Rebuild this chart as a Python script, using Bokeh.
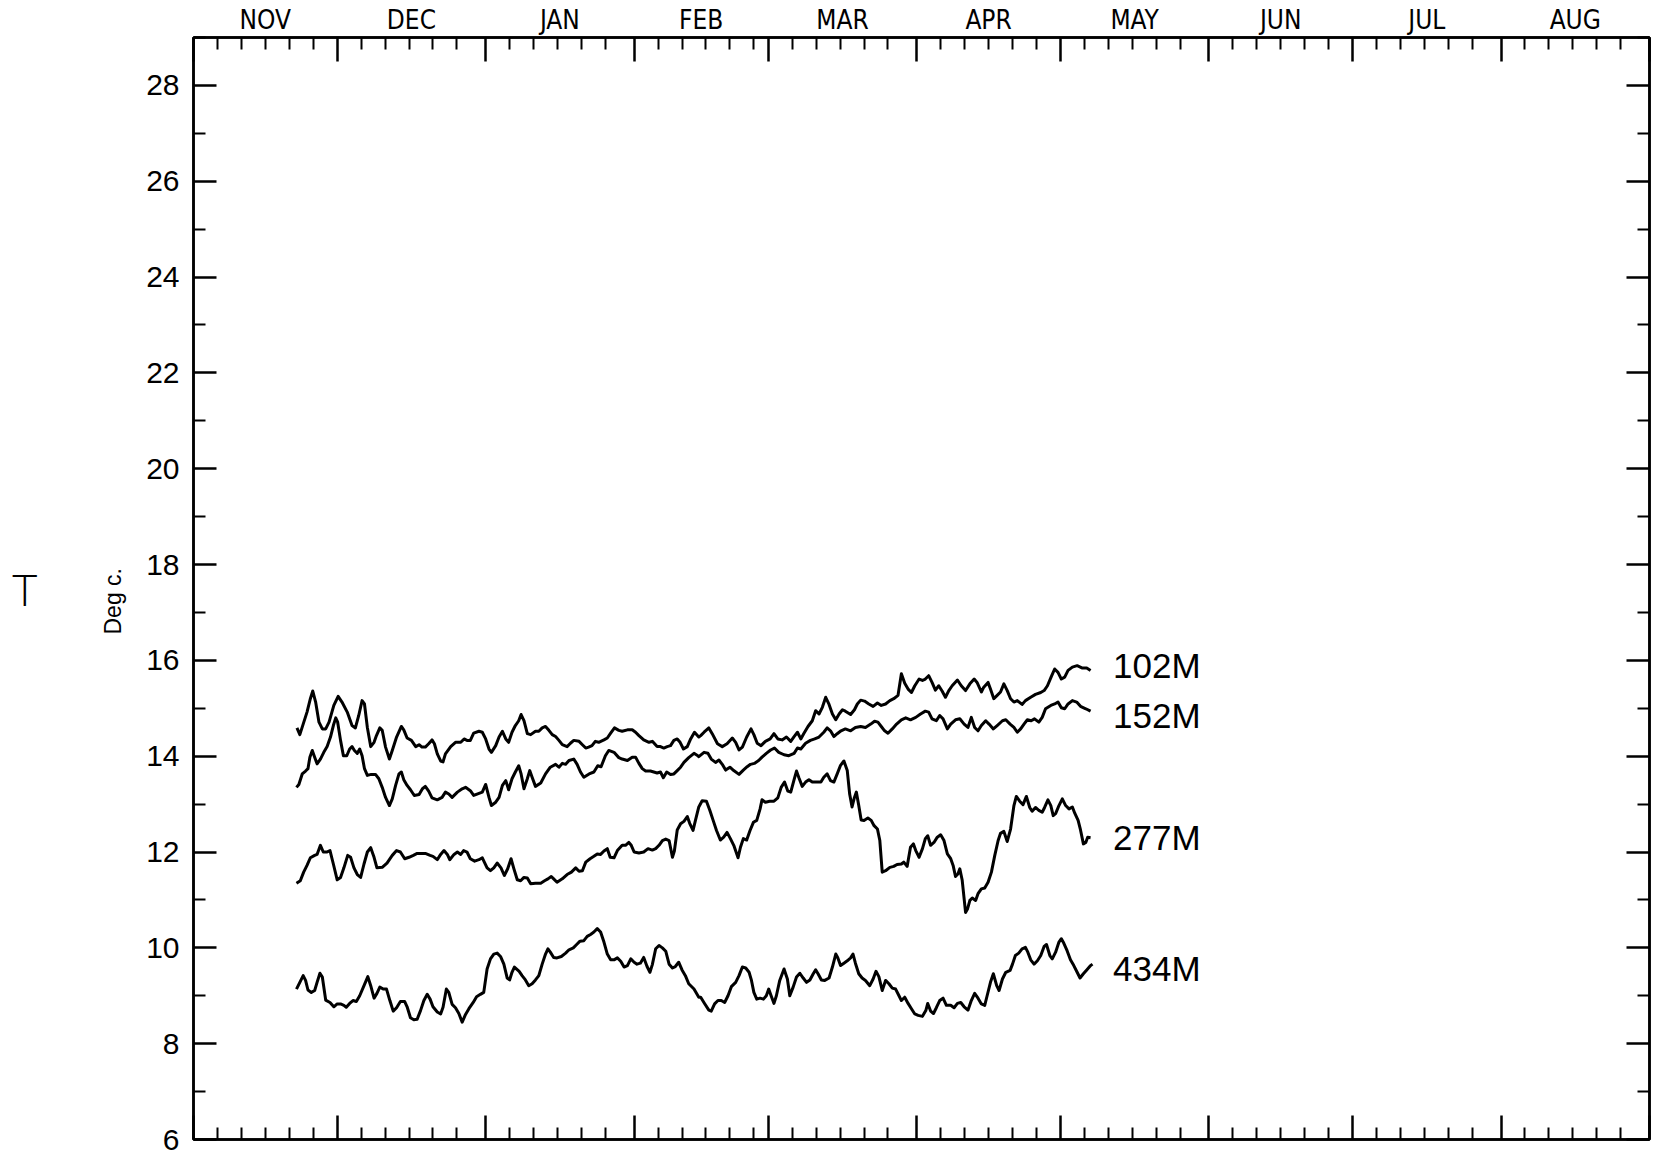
from bokeh.plotting import figure
from bokeh.models import (LinearAxis, FixedTicker, Range1d, CustomJSTickFormatter,
                          ColumnDataSource, CustomLabelingPolicy)
from bokeh.core.properties import value
from bokeh.embed import file_html
from bokeh.resources import INLINE

# ---- axis definitions (days counted from 1 November) ----
month_names = ["NOV", "DEC", "JAN", "FEB", "MAR", "APR", "MAY", "JUN", "JUL", "AUG"]
month_len = [30, 31, 31, 28, 31, 30, 31, 30, 31, 31]
y_major = [6, 8, 10, 12, 14, 16, 18, 20, 22, 24, 26, 28]
y_minor = [7, 9, 11, 13, 15, 17, 19, 21, 23, 25, 27, 29]

# ---- series: (day since 1 Nov, temperature degC) ----
s102 = [(21.6,14.59),(22.2,14.45),(22.9,14.67),(23.7,14.92),(24.4,15.20),(24.9,15.36),(25.5,15.13),(26.2,14.71),(26.9,14.57),(27.6,14.57),(28.3,14.71),(29.3,15.06),(30.2,15.25),(31.0,15.13),(32.1,14.92),(33.1,14.64),(33.8,14.59),(34.5,14.85),(35.2,15.16),(35.7,15.09),(36.3,14.60),(37.0,14.20),(37.7,14.29),(38.2,14.43),(38.9,14.59),(39.4,14.54),(40.1,14.19),(40.9,13.94),(41.5,14.12),(42.4,14.40),(43.4,14.62),(43.9,14.55),(44.6,14.38),(45.5,14.33),(46.4,14.20),(47.1,14.24),(47.7,14.19),(48.4,14.19),(49.1,14.26),(49.8,14.34),(50.3,14.26),(50.9,14.05),(51.6,13.90),(52.1,13.88),(52.6,14.05),(53.7,14.20),(54.7,14.29),(55.8,14.29),(56.5,14.36),(57.1,14.33),(57.8,14.33),(58.5,14.48),(59.6,14.52),(60.3,14.50),(61.0,14.36),(61.7,14.15),(62.2,14.08),(63.1,14.22),(63.8,14.40),(64.5,14.52),(65.2,14.36),(65.8,14.29),(66.5,14.50),(67.2,14.64),(67.9,14.74),(68.4,14.87),(69.0,14.74),(69.7,14.47),(70.4,14.45),(71.4,14.52),(72.1,14.52),(72.8,14.59),(73.5,14.62),(74.2,14.54),(74.9,14.45),(75.6,14.41),(76.3,14.33),(77.0,14.24),(78.0,14.20),(78.7,14.27),(79.4,14.33),(80.5,14.31),(81.2,14.24),(81.9,14.17),(82.5,14.19),(83.2,14.22),(83.9,14.31),(84.6,14.29),(85.7,14.34),(86.4,14.38),(87.1,14.48),(87.9,14.59),(88.8,14.54),(89.5,14.52),(90.6,14.55),(91.6,14.55),(92.3,14.50),(93.0,14.43),(94.0,14.34),(95.1,14.29),(95.8,14.31),(96.8,14.20),(97.5,14.20),(98.2,14.17),(98.9,14.20),(99.6,14.22),(100.3,14.33),(101.0,14.36),(101.6,14.29),(102.3,14.15),(103.1,14.20),(103.8,14.36),(104.6,14.50),(105.5,14.40),
        (105.9,14.43),(106.6,14.50),(107.6,14.59),(108.3,14.47),(109.4,14.26),(110.4,14.20),(111.4,14.26),(112.5,14.38),(113.2,14.29),(113.9,14.13),(114.6,14.19),(115.5,14.40),(116.4,14.57),(117.0,14.45),(117.7,14.27),(118.5,14.22),(119.4,14.31),(120.4,14.36),(121.2,14.47),(122.0,14.36),(122.9,14.34),(123.8,14.40),(124.7,14.31),(125.4,14.41),(126.1,14.50),(126.8,14.36),(127.4,14.47),(128.3,14.62),(129.2,14.74),(129.9,14.95),(130.6,14.88),(131.3,15.02),(132.0,15.23),(132.7,15.08),(133.4,14.88),(134.1,14.76),(134.8,14.88),(135.5,14.97),(136.1,14.94),(137.2,14.87),(138.0,14.97),(138.6,15.09),(139.3,15.17),(140.1,15.15),(141.0,15.09),(141.9,15.04),(142.8,15.11),(143.6,15.06),(144.5,15.09),(145.4,15.16),(146.2,15.20),(147.1,15.27),(147.8,15.72),(148.5,15.52),(149.2,15.40),(149.9,15.33),(150.6,15.47),(151.5,15.61),(152.2,15.58),(152.8,15.61),(153.5,15.68),(154.2,15.54),(154.9,15.38),(155.6,15.47),(156.3,15.36),(157.0,15.23),(157.7,15.37),(158.4,15.47),(159.5,15.59),(160.3,15.47),(161.2,15.37),(162.1,15.51),(163.0,15.61),(163.6,15.54),(164.5,15.34),(165.0,15.44),(165.9,15.54),(166.4,15.40),(167.1,15.20),(167.8,15.27),(168.5,15.34),(169.2,15.51),(169.9,15.37),(170.6,15.20),(171.3,15.13),(172.0,15.16),(173.0,15.08),(173.7,15.16),(174.8,15.23),(175.8,15.29),(176.9,15.33),(177.6,15.37),(178.3,15.47),(179.1,15.66),(179.8,15.82),(180.5,15.75),(181.2,15.61),(181.9,15.65),(182.6,15.79),(183.5,15.86),(184.5,15.89),(185.6,15.84),(186.5,15.84),(187.3,15.79)]

s152 = [(21.5,13.35),(22.0,13.41),(22.7,13.63),(23.4,13.69),(23.9,13.74),(24.3,13.98),(24.8,14.12),(25.3,13.98),(25.8,13.84),(26.5,13.94),(27.2,14.08),(27.9,14.20),(28.6,14.40),(29.2,14.64),(29.7,14.80),(30.1,14.71),(30.7,14.33),(31.3,14.01),(32.0,14.01),(32.6,14.15),(33.1,14.20),(33.6,14.12),(34.2,14.06),(34.7,14.15),(35.2,14.01),(35.7,13.74),(36.3,13.60),(37.1,13.62),(38.0,13.62),(38.7,13.53),(39.4,13.35),(40.1,13.14),(40.9,12.97),(41.5,13.11),(42.2,13.39),(42.9,13.63),(43.4,13.67),(43.9,13.51),(44.6,13.39),(45.3,13.30),(46.1,13.18),(47.1,13.20),(47.8,13.32),(48.4,13.37),(49.1,13.27),(49.8,13.13),(50.9,13.09),(51.9,13.14),(52.6,13.25),(53.3,13.21),(54.0,13.14),(55.1,13.25),(56.1,13.32),(56.8,13.35),(57.8,13.28),(58.5,13.18),(59.2,13.21),(60.3,13.25),(61.0,13.41),(61.7,13.14),(62.2,12.97),(63.1,13.04),(63.8,13.14),(64.5,13.39),(65.2,13.49),(65.8,13.30),(66.5,13.53),(67.2,13.67),(67.9,13.80),(68.4,13.63),(69.0,13.32),(69.7,13.53),(70.2,13.70),(70.7,13.56),(71.4,13.37),(72.5,13.44),(73.5,13.63),(74.5,13.77),(75.6,13.83),(76.3,13.77),(77.0,13.85),(77.7,13.83),(78.4,13.91),(79.4,13.94),(80.1,13.83),(80.8,13.67),(81.5,13.56),(82.6,13.63),(83.6,13.67),(84.4,13.80),(85.1,13.78),(86.0,14.01),(86.7,14.12),(87.8,14.08),(88.8,13.97),(89.5,13.94),(90.6,13.91),(91.6,13.98),(92.3,13.98),(93.0,13.85),(93.7,13.74),(94.4,13.69),(95.4,13.69),(96.1,13.67),(96.8,13.65),(97.5,13.67),(98.1,13.55),(98.8,13.67),(99.6,13.62),(100.3,13.63),(101.0,13.70),(101.7,13.77),(102.4,13.87),(103.4,13.97),(104.5,14.06),(105.3,14.01),
        (105.5,13.99),(106.6,14.08),(107.4,14.06),(108.1,13.94),(109.0,13.87),(109.7,13.92),(110.4,13.83),(111.1,13.71),(112.0,13.77),(112.8,13.70),(113.9,13.62),(114.8,13.71),(115.6,13.78),(116.3,13.83),(117.1,13.85),(118.0,13.91),(118.7,13.98),(119.6,14.06),(120.5,14.13),(121.3,14.17),(122.2,14.08),(123.3,14.03),(124.3,14.01),(125.4,14.06),(126.1,14.17),(126.8,14.15),(127.8,14.27),(128.8,14.33),(129.7,14.36),(130.6,14.40),(131.6,14.50),(132.3,14.59),(133.0,14.53),(133.7,14.41),(134.4,14.47),(135.2,14.53),(136.1,14.57),(137.2,14.53),(138.2,14.60),(139.3,14.62),(140.3,14.60),(141.4,14.67),(142.2,14.73),(142.9,14.71),(143.6,14.62),(144.3,14.53),(145.0,14.48),(145.9,14.57),(146.8,14.67),(147.8,14.76),(148.7,14.80),(149.7,14.76),(150.8,14.81),(151.8,14.88),(152.8,14.94),(153.5,14.92),(154.2,14.78),(155.1,14.74),(155.8,14.85),(156.5,14.78),(157.4,14.57),(158.1,14.67),(159.1,14.76),(160.0,14.78),(160.9,14.67),(161.7,14.60),(162.4,14.81),(163.1,14.60),(163.8,14.53),(164.5,14.64),(165.4,14.74),(166.1,14.67),(167.0,14.57),(167.8,14.64),(168.9,14.74),(169.6,14.76),(170.5,14.67),(171.3,14.60),(172.0,14.50),(172.7,14.57),(173.4,14.67),(174.1,14.76),(174.9,14.74),(175.6,14.78),(176.5,14.71),(177.2,14.81),(177.9,14.99),(179.0,15.06),(179.8,15.09),(180.5,15.13),(181.2,15.01),(181.9,14.99),(182.6,15.09),(183.5,15.16),(184.4,15.13),(185.2,15.04),(186.3,14.99),(187.3,14.94)]

s277 = [(21.5,11.35),(22.3,11.40),(23.0,11.58),(23.7,11.72),(24.4,11.88),(25.3,11.93),(25.8,11.95),(26.5,12.14),(27.1,12.00),(27.8,12.00),(28.5,12.03),(29.2,11.75),(30.0,11.42),(30.7,11.47),(31.4,11.67),(32.2,11.93),(32.8,11.89),(33.5,11.67),(34.2,11.53),(34.9,11.47),(35.6,11.75),(36.3,12.00),(37.0,12.09),(37.7,11.89),(38.3,11.67),(39.4,11.68),(40.4,11.77),(41.5,11.93),(42.4,12.03),(43.2,12.00),(44.1,11.86),(45.0,11.89),(45.9,11.93),(46.7,11.97),(47.5,11.97),(48.4,11.97),(49.4,11.93),(50.0,11.91),(50.9,11.84),(51.6,11.95),(52.3,12.03),(53.0,11.95),(53.5,11.84),(54.4,11.95),(55.1,12.00),(55.8,11.95),(56.4,12.03),(57.1,12.00),(57.8,11.86),(58.7,11.81),(59.6,11.84),(60.3,11.88),(61.3,11.67),(62.0,11.61),(62.7,11.67),(63.4,11.77),(64.2,11.67),(64.9,11.51),(65.6,11.65),(66.3,11.86),(66.9,11.65),(67.6,11.42),(68.3,11.40),(69.0,11.47),(69.7,11.46),(70.4,11.34),(71.4,11.35),(72.5,11.35),(73.3,11.40),(74.0,11.44),(74.7,11.49),(75.2,11.44),(75.9,11.37),(77.0,11.44),(78.0,11.53),(78.9,11.58),(79.8,11.67),(80.5,11.60),(81.2,11.61),(81.9,11.79),(82.8,11.86),(83.6,11.91),(84.3,11.96),(85.0,11.95),(85.7,12.02),(86.4,12.07),(87.0,11.89),(87.8,11.88),(88.5,12.03),(89.5,12.14),(90.2,12.14),(90.9,12.20),(91.4,12.14),(92.0,12.00),(93.0,11.98),(94.0,12.00),(94.9,12.07),(95.8,12.04),(96.5,12.07),(97.2,12.14),(97.9,12.24),(98.6,12.27),(99.3,12.24),(100.0,11.89),(100.4,12.02),(101.0,12.46),(101.7,12.59),(102.4,12.64),(103.1,12.74),(103.6,12.60),(104.3,12.45),(104.8,12.66),
        (105.5,12.94),(106.2,13.07),(107.1,13.06),(107.8,12.87),(108.5,12.66),(109.2,12.45),(110.0,12.25),(110.7,12.31),(111.4,12.41),(112.1,12.28),(112.8,12.14),(113.7,11.88),(114.2,12.10),(114.8,12.28),(115.5,12.25),(116.2,12.45),(116.9,12.62),(117.6,12.66),(118.3,12.90),(118.7,13.09),(119.4,13.04),(120.3,13.06),(121.2,13.06),(122.0,13.13),(122.7,13.35),(123.4,13.46),(124.1,13.27),(124.7,13.25),(125.4,13.51),(125.9,13.69),(126.4,13.55),(127.1,13.37),(127.8,13.46),(128.5,13.51),(129.2,13.46),(129.9,13.46),(131.0,13.46),(131.6,13.56),(132.3,13.63),(133.0,13.49),(133.7,13.46),(134.4,13.63),(135.1,13.81),(135.8,13.90),(136.5,13.70),(137.0,13.21),(137.5,12.94),(138.0,13.14),(138.4,13.25),(138.9,12.97),(139.4,12.67),(140.0,12.66),(140.8,12.71),(141.5,12.66),(142.1,12.55),(142.8,12.48),(143.3,12.24),(143.8,11.58),(144.5,11.61),(145.4,11.68),(146.2,11.70),(146.9,11.74),(147.8,11.75),(148.3,11.79),(149.0,11.70),(149.7,12.10),(150.3,12.17),(150.8,12.03),(151.5,11.89),(152.2,12.07),(152.8,12.28),(153.3,12.34),(153.9,12.14),(154.6,12.20),(155.3,12.31),(156.0,12.36),(156.7,12.24),(157.4,11.96),(158.1,11.86),(158.6,11.72),(159.1,11.49),(159.6,11.54),(160.0,11.65),(160.5,11.41),(161.2,10.74),(161.6,10.81),(162.1,10.99),(162.6,11.04),(163.3,10.99),(163.8,11.13),(164.5,11.23),(165.2,11.25),(165.9,11.37),(166.6,11.58),(167.3,11.93),(168.0,12.24),(168.5,12.39),(169.2,12.43),(169.9,12.22),(170.6,12.48),(171.3,12.97),(171.8,13.16),(172.5,13.06),(173.2,12.99),(173.9,13.16),(174.6,12.93),(175.1,12.85),(175.8,12.93),(176.5,12.87),(177.2,12.83),(177.7,12.93),(178.4,13.09),(179.0,12.97),(179.5,12.76),(180.0,12.80),(180.7,12.97),(181.4,13.11),(182.1,12.97),(182.8,12.90),(183.5,12.94),(184.0,12.81),(184.7,12.66),(185.2,12.46),(185.8,12.17),(186.3,12.20),(186.7,12.31),(187.3,12.30)]

s434 = [(21.5,9.14),(22.2,9.28),(22.9,9.42),(23.4,9.32),(23.9,9.12),(24.6,9.07),(25.3,9.11),(25.8,9.28),(26.4,9.47),(26.9,9.39),(27.6,8.91),(28.5,8.86),(29.3,8.77),(30.0,8.83),(30.7,8.83),(31.4,8.80),(31.9,8.76),(32.6,8.84),(33.3,8.90),(34.0,8.88),(34.7,9.00),(35.6,9.21),(36.4,9.40),(37.0,9.21),(37.7,8.95),(38.3,9.05),(38.9,9.18),(39.6,9.14),(40.3,9.14),(41.0,8.90),(41.7,8.68),(42.4,8.75),(43.2,8.88),(44.1,8.88),(44.6,8.77),(45.3,8.54),(46.0,8.50),(46.7,8.51),(47.4,8.69),(48.1,8.90),(48.8,9.03),(49.4,8.93),(50.0,8.77),(50.9,8.66),(51.6,8.62),(52.1,8.76),(52.8,9.14),(53.3,9.07),(54.0,8.82),(54.7,8.75),(55.4,8.63),(56.1,8.45),(56.8,8.61),(57.5,8.73),(58.4,8.86),(59.1,8.98),(59.9,9.03),(60.6,9.07),(61.3,9.56),(62.0,9.77),(62.7,9.87),(63.4,9.89),(64.1,9.82),(64.8,9.66),(65.5,9.37),(66.0,9.33),(66.5,9.49),(67.0,9.60),(68.0,9.51),(68.6,9.42),(69.3,9.33),(70.0,9.21),(70.7,9.25),(71.4,9.33),(72.1,9.42),(72.8,9.66),(73.5,9.87),(74.0,9.98),(74.5,9.91),(75.2,9.80),(75.9,9.79),(76.8,9.82),(77.7,9.89),(78.4,9.96),(79.3,10.00),(80.0,10.07),(80.7,10.14),(81.5,10.15),(82.2,10.24),(82.9,10.28),(83.6,10.33),(84.3,10.40),(85.0,10.33),(85.7,10.12),(86.4,9.87),(87.1,9.75),(87.8,9.75),(88.5,9.79),(89.2,9.72),(89.9,9.60),(90.6,9.63),(91.3,9.77),(92.0,9.70),(92.6,9.66),(93.3,9.68),(94.0,9.80),(94.7,9.61),(95.3,9.49),(95.8,9.65),(96.5,9.98),(97.2,10.05),(97.9,10.00),(98.6,9.93),(99.3,9.66),(100.0,9.58),(100.6,9.61),(101.3,9.70),(102.0,9.54),(102.7,9.42),(103.4,9.25),(104.5,9.14),(105.5,8.97),
        (105.9,8.97),(106.7,8.84),(107.6,8.70),(108.1,8.68),(108.8,8.83),(109.5,8.90),(110.2,8.90),(110.9,8.86),(111.6,9.00),(112.3,9.19),(113.2,9.28),(113.9,9.42),(114.6,9.60),(115.3,9.58),(116.0,9.49),(116.5,9.32),(117.0,9.07),(117.6,8.93),(118.3,8.95),(119.0,8.93),(119.6,9.00),(120.1,9.14),(120.6,9.00),(121.2,8.84),(121.7,9.00),(122.4,9.32),(123.3,9.56),(124.0,9.35),(124.5,9.00),(125.2,9.18),(125.9,9.39),(126.6,9.47),(127.3,9.37),(128.0,9.28),(128.7,9.33),(129.4,9.46),(129.9,9.54),(130.4,9.46),(131.1,9.33),(131.8,9.32),(132.7,9.37),(133.4,9.60),(134.1,9.87),(134.5,9.80),(135.1,9.63),(135.8,9.68),(136.5,9.73),(137.2,9.79),(137.7,9.87),(138.2,9.68),(138.9,9.46),(139.6,9.37),(140.3,9.32),(141.2,9.21),(141.9,9.35),(142.5,9.51),(143.1,9.40),(143.8,9.11),(144.5,9.32),(145.2,9.25),(145.9,9.16),(146.6,9.14),(147.3,9.00),(147.8,8.90),(148.5,8.97),(149.2,8.84),(149.9,8.73),(150.6,8.62),(151.3,8.59),(152.2,8.57),(152.9,8.69),(153.3,8.84),(153.9,8.68),(154.5,8.63),(155.1,8.75),(155.8,8.90),(156.5,8.95),(157.2,8.80),(158.1,8.80),(158.8,8.75),(159.5,8.84),(160.2,8.86),(160.9,8.77),(161.7,8.70),(162.4,8.90),(163.1,9.05),(163.8,8.95),(164.5,8.83),(165.2,8.80),(165.7,9.00),(166.4,9.28),(167.0,9.46),(167.7,9.21),(168.2,9.11),(168.9,9.35),(169.6,9.49),(170.5,9.53),(171.0,9.66),(171.6,9.84),(172.3,9.89),(173.0,9.98),(173.7,10.01),(174.2,9.91),(174.8,9.75),(175.5,9.66),(176.2,9.73),(176.9,9.84),(177.6,10.03),(178.1,10.07),(178.8,9.84),(179.3,9.77),(180.0,9.91),(180.7,10.12),(181.2,10.19),(181.7,10.10),(182.4,9.94),(183.1,9.75),(183.8,9.63),(184.5,9.49),(185.1,9.37),(185.8,9.46),(186.5,9.54),(187.3,9.63),(187.7,9.66)]

depth_labels = ["102M", "152M", "277M", "434M"]
label_day = [192.0, 192.0, 192.0, 192.0]
label_temp = [15.90, 14.85, 12.30, 9.57]
big_label_pos = 17.50   # where the "T" sits on the temperature scale

# ---- derived tick positions ----
month_starts, month_mids, five_day = [], [], []
acc = 0
for L in month_len:
    month_starts.append(acc)
    month_mids.append(acc + L / 2.0)
    for k in (5, 10, 15, 20, 25):
        five_day.append(acc + k)
    acc += L
month_starts.append(acc)
x_end = acc

FONT = "Liberation Sans"
NARROW = "DejaVu Sans Condensed"

p = figure(x_range=Range1d(0, x_end), y_range=Range1d(6, 29),
           frame_width=1456, frame_height=1102,
           x_axis_location=None, y_axis_location=None,
           output_backend="svg", toolbar_location=None,
           min_border_left=193, min_border_right=4, min_border_top=37, min_border_bottom=16,
           background_fill_color="white", border_fill_color="white")
p.xgrid.visible = False
p.ygrid.visible = False
p.outline_line_color = "black"
p.outline_line_width = 2.5

hide_labels = CustomLabelingPolicy(code="""
const n = indices.size;
for (let i = 0; i < n; i++) { indices.unset(i); }
return indices;
""")

def tick_style(ax, major_len, minor_len):
    ax.major_tick_in = major_len
    ax.major_tick_out = 0
    ax.minor_tick_in = minor_len
    ax.minor_tick_out = 0
    ax.major_tick_line_width = 2.5
    ax.minor_tick_line_width = 2
    ax.major_tick_line_color = "black"
    ax.minor_tick_line_color = "black"
    ax.axis_line_width = 2.5
    ax.axis_line_color = "black"

def ticks_only(ax):
    ax.major_label_policy = hide_labels
    ax.major_label_standoff = 0
    ax.major_label_text_font_size = "0px"

# left axis with labels
yl = LinearAxis(ticker=FixedTicker(ticks=y_major, minor_ticks=y_minor))
tick_style(yl, 23, 12)
yl.major_label_text_font = FONT
yl.major_label_text_font_size = "30px"
yl.major_label_text_color = "black"
yl.major_label_standoff = 14
yl.axis_label = "Deg c.\u00a0\u00a0\u00a0\u00a0"
yl.axis_label_text_font = FONT
yl.axis_label_text_font_size = "23px"
yl.axis_label_text_font_style = "normal"
yl.axis_label_text_color = "black"
yl.axis_label_standoff = 17
p.add_layout(yl, "left")

# outer left "axis" carrying the big T
tl = LinearAxis(ticker=FixedTicker(ticks=[big_label_pos], minor_ticks=[]),
                formatter=CustomJSTickFormatter(code="return 'T';"))
tl.major_tick_in = 0
tl.major_tick_out = 0
tl.minor_tick_in = 0
tl.minor_tick_out = 0
tl.axis_line_color = None
tl.major_tick_line_color = None
tl.major_label_text_font = "'Lato Light', 'Liberation Sans', sans-serif"
tl.major_label_text_font_size = "44px"
tl.major_label_text_color = "black"
tl.major_label_standoff = 60
p.add_layout(tl, "left")

# right axis: ticks only
yr = LinearAxis(ticker=FixedTicker(ticks=y_major, minor_ticks=y_minor))
tick_style(yr, 23, 12)
ticks_only(yr)
p.add_layout(yr, "right")

# top: ticks
xt = LinearAxis(ticker=FixedTicker(ticks=month_starts, minor_ticks=five_day))
tick_style(xt, 24, 12)
ticks_only(xt)
p.add_layout(xt, "above")

# top: month names centred in each month
xm = LinearAxis(ticker=FixedTicker(ticks=month_mids, minor_ticks=[]),
                formatter=CustomJSTickFormatter(args=dict(mids=month_mids, names=month_names), code="""
                    for (let i = 0; i < mids.length; i++) { if (Math.abs(mids[i] - tick) < 1e-6) return names[i]; }
                    return '';"""))
xm.major_tick_in = 0
xm.major_tick_out = 0
xm.minor_tick_in = 0
xm.minor_tick_out = 0
xm.axis_line_color = None
xm.major_tick_line_color = None
xm.major_label_text_font = NARROW
xm.major_label_text_font_size = "26px"
xm.major_label_text_color = "black"
xm.major_label_standoff = 3
p.add_layout(xm, "above")

# bottom: ticks only
xb = LinearAxis(ticker=FixedTicker(ticks=month_starts, minor_ticks=five_day))
tick_style(xb, 24, 12)
ticks_only(xb)
p.add_layout(xb, "below")

for s in (s102, s152, s277, s434):
    src = ColumnDataSource(dict(x=[a for a, b in s], y=[b for a, b in s]))
    p.line("x", "y", source=src, line_color="black", line_width=3.0, line_join="round")

lab = ColumnDataSource(dict(x=label_day, y=label_temp, t=depth_labels))
p.text("x", "y", text="t", source=lab, text_font=value(FONT), text_font_size="35px",
       text_baseline="middle", text_align="left", text_color="black")

open("out.html", "w").write(file_html(p, INLINE))
